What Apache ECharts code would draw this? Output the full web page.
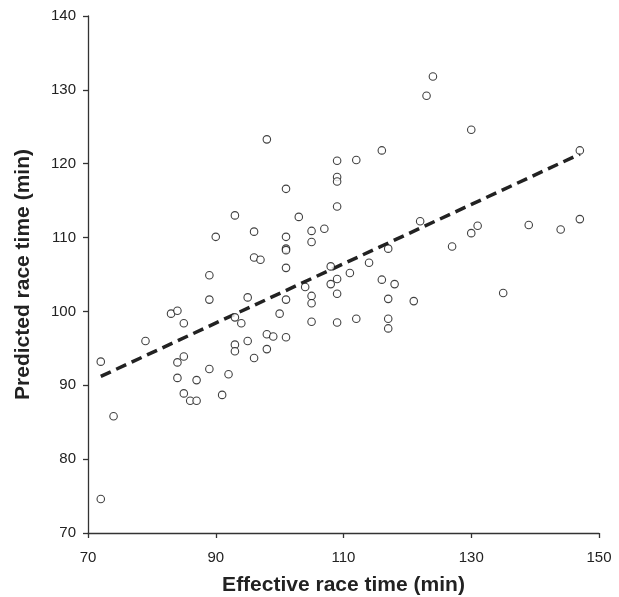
<!DOCTYPE html>
<html>
<head>
<meta charset="utf-8">
<script src="https://cdn.jsdelivr.net/npm/echarts@6/dist/echarts.min.js"></script>
<style>
  html, body { margin: 0; padding: 0; background: #fff; }
  #chart { width: 619px; height: 597px; }
</style>
</head>
<body>
<div id="chart"></div>
<script>
// effective race time (min)
const effectiveTime = [
  98, 109, 112, 109, 109, 101, 109, 93, 103, 90,
  96, 101, 105, 107, 105, 101, 101, 96, 97, 101,
  108, 111, 109, 89, 124, 123, 130, 116, 147, 122,
  130, 131, 139, 144, 147, 127, 117, 114, 116, 89,
  95, 101, 104, 105, 105, 108, 109, 105, 109, 112,
  83, 84, 85, 93, 94, 100, 79, 72, 84, 85,
  93, 93, 95, 98, 99, 101, 96, 98, 89, 92,
  84, 87, 85, 86, 87, 91, 74, 72, 118, 117,
  121, 135, 117, 117
];
// predicted race time (min)
const predictedTime = [
  123.3, 120.4, 120.5, 118.2, 117.6, 116.6, 114.2, 113.0, 112.8, 110.1,
  110.8, 110.1, 110.9, 111.2, 109.4, 108.5, 108.3, 107.3, 107.0, 105.9,
  106.1, 105.2, 104.4, 104.9, 131.8, 129.2, 124.6, 121.8, 121.8, 112.2,
  110.6, 111.6, 111.7, 111.1, 112.5, 108.8, 108.5, 106.6, 104.3, 101.6,
  101.9, 101.6, 103.3, 102.1, 101.1, 103.7, 102.4, 98.6, 98.5, 99.0,
  99.7, 100.1, 98.4, 99.2, 98.4, 99.7, 96.0, 93.2, 93.1, 93.9,
  95.5, 94.6, 96.0, 96.9, 96.6, 96.5, 93.7, 94.9, 92.2, 91.5,
  91.0, 90.7, 88.9, 87.9, 87.9, 88.7, 85.8, 74.6, 103.7, 101.7,
  101.4, 102.5, 99.0, 97.7
];
// regression line end points
const fitLine = [[72, 91.2], [147, 121.3]];

const xTicks = [70, 90, 110, 130, 150];
const yTicks = [70, 80, 90, 100, 110, 120, 130, 140];

const points = effectiveTime.map((x, i) => [x, predictedTime[i]]);

const chart = echarts.init(document.getElementById('chart'));

const font = 'Liberation Sans, Arial, sans-serif';
const axisStyle = {
  axisLine: { show: true, lineStyle: { color: '#333', width: 1.3 } },
  axisTick: { show: true, inside: false, length: 5, lineStyle: { color: '#333', width: 1.3 } },
  splitLine: { show: false },
  nameTextStyle: { color: '#222', fontSize: 21, fontWeight: 'bold', fontFamily: font }
};

chart.setOption({
  animation: false,
  grid: { left: 88, right: 20, top: 16, bottom: 64, outerBoundsMode: 'none' },
  xAxis: Object.assign({
    type: 'value',
    min: xTicks[0],
    max: xTicks[xTicks.length - 1],
    interval: 20,
    name: 'Effective race time (min)',
    nameLocation: 'middle',
    nameGap: 42,
    axisLabel: { color: '#222', fontSize: 15, fontFamily: font, margin: 17 }
  }, axisStyle),
  yAxis: Object.assign({
    type: 'value',
    min: yTicks[0],
    max: yTicks[yTicks.length - 1],
    interval: 10,
    name: 'Predicted race time (min)',
    nameLocation: 'middle',
    nameGap: 54,
    axisLabel: { color: '#222', fontSize: 15, fontFamily: font, margin: 12 }
  }, axisStyle),
  series: [
    {
      type: 'line',
      data: fitLine,
      symbol: 'none',
      lineStyle: { color: '#222', width: 3.5, type: [11, 6] },
      z: 2
    },
    {
      type: 'scatter',
      data: points,
      symbol: 'circle',
      symbolSize: 7.5,
      itemStyle: { color: '#fff', borderColor: '#111', borderWidth: 1.1 },
      z: 3
    }
  ]
});
</script>
</body>
</html>
